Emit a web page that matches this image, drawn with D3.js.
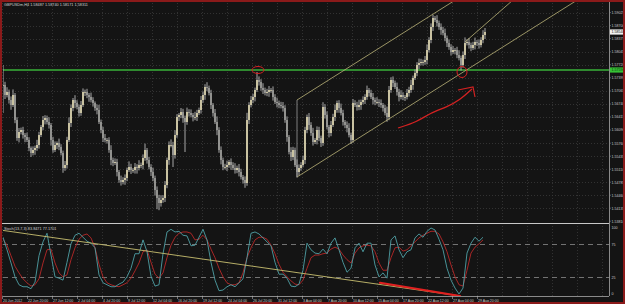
<!DOCTYPE html>
<html>
<head>
<meta charset="utf-8">
<script src="https://cdn.jsdelivr.net/npm/d3@7"></script>
<style>
  body { margin: 0; background: #141414; }
  svg { display: block; }
  text { font-family: "Liberation Sans", Arial, sans-serif; }
</style>
</head>
<body>
<div id="chart"></div>
<script>
// GBPUSDm H4 closes
const closes = [
  1.57215,1.56965,1.57040,1.56840,1.56715,1.56965,1.56340,1.55890,1.56040,1.56090,
  1.55965,1.55915,1.55840,1.55640,1.55515,1.55590,1.55640,1.55715,1.55965,1.56165,
  1.56340,1.56390,1.56290,1.56215,1.55840,1.55590,1.55715,1.55765,1.55665,1.55515,
  1.55140,1.55215,1.55840,1.56265,1.56640,1.56840,1.56765,1.56665,1.56515,1.56715,
  1.57040,1.57040,1.56965,1.56915,1.56840,1.56765,1.56640,1.56590,1.56290,1.56090,
  1.55890,1.55840,1.55840,1.55590,1.55340,1.55265,1.55290,1.55040,1.54840,1.54790,
  1.54840,1.54890,1.55090,1.55165,1.55090,1.55090,1.55165,1.55140,1.55215,1.55215,
  1.55390,1.55590,1.55340,1.55165,1.55040,1.54890,1.54590,1.54390,1.54265,1.54340,
  1.54390,1.54715,1.55340,1.55715,1.55715,1.55465,1.55965,1.56415,1.56465,1.56540,
  1.56390,1.56290,1.56540,1.56515,1.56465,1.56415,1.56415,1.56515,1.56590,1.56840,
  1.56965,1.57165,1.57140,1.57015,1.56715,1.56515,1.56290,1.56090,1.55590,1.55340,
  1.55165,1.55165,1.55215,1.55290,1.55215,1.55140,1.55090,1.55140,1.55040,1.54915,
  1.54840,1.54765,1.56340,1.56715,1.56840,1.56915,1.57090,1.57340,1.57290,1.57140,
  1.57090,1.57015,1.57040,1.57090,1.57090,1.56915,1.56790,1.56765,1.56715,1.56690,
  1.56640,1.56340,1.55915,1.55540,1.55415,1.55590,1.55215,1.55040,1.55140,1.55215,
  1.55340,1.56090,1.56415,1.56215,1.56015,1.55790,1.55840,1.56090,1.55890,1.55765,
  1.56665,1.56465,1.56165,1.56015,1.56215,1.56415,1.56590,1.56765,1.56640,1.56515,
  1.56290,1.56215,1.56140,1.55965,1.55840,1.56765,1.56715,1.56665,1.56715,1.56790,
  1.56840,1.56915,1.57090,1.57015,1.56915,1.56840,1.56790,1.56790,1.56765,1.56715,
  1.56640,1.56515,1.56415,1.57090,1.57340,1.57265,1.57165,1.57040,1.56915,1.56965,
  1.56915,1.56915,1.57015,1.57090,1.57215,1.57390,1.57515,1.57715,1.57765,1.57790,
  1.57790,1.57840,1.58090,1.58340,1.58665,1.58890,1.58840,1.58765,1.58665,1.58590,
  1.58515,1.58390,1.58265,1.58165,1.58040,1.58090,1.58090,1.57965,1.57890,1.57715,
  1.57965,1.58265,1.58290,1.58215,1.58140,1.58215,1.58290,1.58265,1.58215,1.58340,
  1.58465,1.58540
];

// wick lengths above / below the body, in pips
const upperWick = [
  50,8,12,6,9,14,5,7,10,6, 8,5,11,7,4,9,6,13,8,5, 10,7,6,12,5,8,9,4,11,7,
  6,10,8,14,9,5,12,7,6,10, 9,6,8,5,11,7,4,9,13,6, 8,10,5,7,12,6,9,8,5,11,
  7,9,6,14,8,5,10,7,12,6, 9,16,5,8,7,11,6,9,8,12, 7,10,6,9,14,8,12,7,5,10,
  8,6,11,7,9,5,13,8,6,10, 9,7,12,6,8,5,10,14,7,9, 6,8,11,5,9,7,12,6,10,8,
  5,9,18,7,10,8,6,20,9,7, 12,6,8,10,5,9,7,11,6,8, 10,7,9,5,12,8,6,14,9,7,
  11,8,6,10,7,13,5,9,8,6, 12,7,9,5,10,8,14,6,7,11, 8,5,9,12,6,10,7,8,13,6,
  9,7,11,5,8,10,6,12,7,9, 5,8,16,10,7,9,6,11,8,12, 7,5,10,8,13,6,9,7,11,8,
  6,10,14,7,9,8,5,12,6,9, 8,11,6,9,7,10,5,8,12,6, 9,14,7,10,6,8,11,5,9,7,
  12,10
];
const lowerWick = [
  70,10,6,9,12,5,8,7,11,6, 9,13,5,8,10,6,12,7,9,5, 8,11,6,9,14,7,5,10,8,6,
  12,7,9,5,10,8,13,6,9,7, 5,10,8,12,6,9,7,11,5,8, 10,6,9,7,13,8,5,11,7,9,
  6,12,8,5,10,7,9,14,6,8, 11,7,9,6,10,8,14,28,18,9, 7,10,8,12,6,30,9,7,10,8,
  12,75,7,9,6,11,8,10,5,9, 7,12,8,6,10,9,5,13,7,11, 8,6,10,7,12,5,9,8,11,6,
  9,12,7,10,6,8,11,5,9,7, 10,6,8,12,7,9,5,11,8,6, 9,7,12,6,10,8,5,14,9,7,
  6,10,8,12,7,9,5,11,8,10, 7,9,6,11,8,5,10,7,12,6, 9,8,11,6,10,7,5,9,8,12,
  6,10,7,9,5,11,8,6,10,7, 9,6,12,8,7,10,5,9,11,6, 8,10,6,9,7,12,5,8,10,6,
  9,7,11,6,8,10,5,9,7,12, 6,8,10,7,9,5,11,8,6,14, 7,10,6,9,8,5,11,7,9,6,
  8,10
];

// Stochastic (13,7,3), one value every second bar
const stochMain = [
  86,67,47,26,14,11,11,8,18,58, 79,92,59,26,24,21,48,76,89,92,
  86,80,77,70,29,17,14,11,11,15, 18,26,39,61,61,82,64,27,12,14,
  61,94,98,94,95,89,88,73,74,86, 98,82,48,21,5,6,11,14,11,17,
  23,55,92,94,91,85,79,73,48,30, 30,24,12,11,15,36,77,67,62,61,
  68,61,77,85,67,48,33,39,70,77, 64,77,77,44,26,32,24,82,88,67,
  55,64,67,85,91,86,95,100,97,83, 67,39,21,9,0,9,62,77,86,80,
  86
];
const stochSignal = [
  83,74,58,42,32,23,17,12,14,23, 47,67,68,47,32,26,29,52,70,83,
  89,91,85,70,45,26,17,14,12,11, 14,17,24,35,47,64,67,48,30,24,
  32,55,74,86,92,94,94,92,82,83, 89,82,68,55,39,26,17,14,14,17,
  32,55,70,82,86,86,83,74,61,45, 33,26,20,15,14,21,39,55,59,59,
  61,62,68,71,68,59,52,47,62,70, 73,74,73,64,47,36,36,55,70,71,
  65,67,73,79,85,89,92,95,95,91, 79,64,44,26,14,12,36,62,71,76,
  82
];

const timeLabels = [
  "20 Jun 2012","22 Jun 20:00","27 Jun 12:00","2 Jul 04:00","4 Jul 20:00",
  "9 Jul 12:00","12 Jul 04:00","16 Jul 20:00","19 Jul 12:00","24 Jul 04:00",
  "26 Jul 20:00","31 Jul 12:00","3 Aug 04:00","7 Aug 20:00","10 Aug 12:00",
  "15 Aug 04:00","17 Aug 20:00","22 Aug 12:00","27 Aug 04:00","29 Aug 20:00"
];
const priceTicks = [
  1.59025,1.58700,1.58375,1.58045,1.57720,1.57395,1.57065,1.56740,
  1.56415,1.56090,1.55760,1.55435,1.55110,1.54785,1.54460,1.54135,1.53810
];
const stochTicks = [100, 75, 25, 0];
const stochLevels = [75, 25];

// drawn objects, anchored at [bar, price] or [bar, stoch value]
const supportPrice = 1.5759;
const channelLower = [[147, 1.54915], [229.5, 1.5752]];
const channelUpperStart = [147, 1.5684];
const steepLine = [[231, 1.5829], [255, 1.5934]];
const markCircles = [[127.5, 1.5759, 6, 3.5], [229.5, 1.5754, 5, 5.5]];
const arrowPath = [[197.5, 1.5614], [207, 1.5629], [213.5, 1.56515], [222, 1.56665], [228.5, 1.5684], [234.5, 1.57115]];
const arrowHead = [[227.5, 1.5709], [235, 1.57165], [236, 1.56915]];
const stochTrend = [[-1.5, 97], [228.5, -3]];
const stochMark = [[188.5, 17], [228.5, -3]];

const header = "GBPUSDm,H4  1.58487 1.58740 1.58171 1.58311";
const stochTitle = "Stoch(13,7,3) 83.8471 77.1701";

const W = 625, H = 304;
const main = { left: 3, right: 609, top: 3, bottom: 222 };
const sub = { top: 226, bottom: 296 };

const svg = d3.select("#chart").append("svg")
  .attr("width", W)
  .attr("height", H);

svg.append("rect").attr("width", W).attr("height", H).attr("fill", "#141414");

const x = d3.scaleLinear().domain([0, closes.length - 1]).range([3, 485]);
const y = d3.scaleLinear().domain([1.5379, 1.5934]).range([222, 0]);
const xs = d3.scaleLinear().domain([0, stochMain.length - 1]).range([3, 483]);
const ys = d3.scaleLinear().domain([0, 100]).range([294, 228]);
const xt = d3.scalePoint().domain(timeLabels).range([2, 477]);

// clip areas
const defs = svg.append("defs");
defs.append("clipPath").attr("id", "clipMain").append("rect")
  .attr("x", main.left).attr("y", 2).attr("width", main.right - main.left).attr("height", main.bottom - 2);
defs.append("clipPath").attr("id", "clipSub").append("rect")
  .attr("x", main.left).attr("y", sub.top).attr("width", main.right - main.left).attr("height", sub.bottom - sub.top + 1);

// grid
const gridX = timeLabels.map(d => xt(d));
for (let p = xt(timeLabels[timeLabels.length - 1]) + xt.step(); p < main.right; p += xt.step()) gridX.push(p);

const grid = svg.append("g")
  .attr("stroke", "#3a3a3a")
  .attr("stroke-width", 0.8)
  .attr("stroke-dasharray", "1,2");

grid.selectAll(".vg").data(gridX).join("line")
  .attr("x1", d => d + 0.5).attr("x2", d => d + 0.5)
  .attr("y1", main.top).attr("y2", main.bottom);
grid.selectAll(".vs").data(gridX).join("line")
  .attr("x1", d => d + 0.5).attr("x2", d => d + 0.5)
  .attr("y1", sub.top).attr("y2", sub.bottom);
grid.selectAll(".hg").data(priceTicks.slice(0, -1)).join("line")
  .attr("x1", main.left).attr("x2", main.right)
  .attr("y1", d => Math.round(y(d)) + 0.5).attr("y2", d => Math.round(y(d)) + 0.5);

// support line
svg.append("line")
  .attr("x1", main.left).attr("x2", main.right)
  .attr("y1", y(supportPrice)).attr("y2", y(supportPrice))
  .attr("stroke", "#2f8a2f").attr("stroke-width", 2);

// bars
const bars = closes.map((c, i) => {
  const o = i ? closes[i - 1] : c;
  return {
    i, o, c,
    h: Math.max(o, c) + upperWick[i] / 10000,
    l: Math.min(o, c) - lowerWick[i] / 10000
  };
});

const barG = svg.append("g").attr("clip-path", "url(#clipMain)");
barG.selectAll(".wick").data(bars).join("line")
  .attr("x1", d => x(d.i)).attr("x2", d => x(d.i))
  .attr("y1", d => y(d.h)).attr("y2", d => y(d.l))
  .attr("stroke", "#b8b8b8").attr("stroke-width", 0.9);
barG.selectAll(".body").data(bars).join("rect")
  .attr("x", d => x(d.i) - 0.75)
  .attr("width", 1.5)
  .attr("y", d => y(Math.max(d.o, d.c)))
  .attr("height", d => Math.max(0.8, Math.abs(y(d.o) - y(d.c))))
  .attr("fill", d => d.c >= d.o ? "#ede3b8" : "#a4a4a0");

// channel and trend lines
const objG = svg.append("g").attr("clip-path", "url(#clipMain)");
const slope = (channelLower[1][1] - channelLower[0][1]) / (channelLower[1][0] - channelLower[0][0]);
const farBar = 320;
const rays = [
  [channelLower[0], [farBar, channelLower[0][1] + slope * (farBar - channelLower[0][0])]],
  [channelUpperStart, [farBar, channelUpperStart[1] + slope * (farBar - channelUpperStart[0])]],
  [steepLine[0], [farBar, steepLine[0][1] + (steepLine[1][1] - steepLine[0][1]) / (steepLine[1][0] - steepLine[0][0]) * (farBar - steepLine[0][0])]]
];
objG.selectAll(".ray").data(rays).join("line")
  .attr("x1", d => x(d[0][0])).attr("y1", d => y(d[0][1]))
  .attr("x2", d => x(d[1][0])).attr("y2", d => y(d[1][1]))
  .attr("stroke", "#bdb57a").attr("stroke-width", 0.8);
// left edge of the channel
objG.append("line")
  .attr("x1", x(channelLower[0][0])).attr("x2", x(channelLower[0][0]))
  .attr("y1", y(channelUpperStart[1])).attr("y2", y(channelLower[0][1]))
  .attr("stroke", "#9a9a9a").attr("stroke-width", 0.8);

// red hand marks
objG.selectAll(".mark").data(markCircles).join("ellipse")
  .attr("cx", d => x(d[0])).attr("cy", d => y(d[1]))
  .attr("rx", d => d[2]).attr("ry", d => d[3])
  .attr("fill", "none").attr("stroke", "#d42222").attr("stroke-width", 1);

const pLine = d3.line().x(d => x(d[0])).y(d => y(d[1]));
objG.append("path").attr("d", pLine.curve(d3.curveBasis)(arrowPath))
  .attr("fill", "none").attr("stroke", "#d42222").attr("stroke-width", 1.3);
objG.append("path").attr("d", d3.line().x(d => x(d[0])).y(d => y(d[1]))(arrowHead))
  .attr("fill", "none").attr("stroke", "#d42222").attr("stroke-width", 1.2);

// separator between windows
svg.append("line")
  .attr("x1", 0).attr("x2", main.right)
  .attr("y1", 223.5).attr("y2", 223.5)
  .attr("stroke", "#c8c8c8").attr("stroke-width", 1.2);

// stochastic window
const subG = svg.append("g").attr("clip-path", "url(#clipSub)");
subG.selectAll(".lvl").data(stochLevels).join("line")
  .attr("x1", main.left).attr("x2", main.right)
  .attr("y1", d => ys(d)).attr("y2", d => ys(d))
  .attr("stroke", "#8c8c8c").attr("stroke-width", 0.8)
  .attr("stroke-dasharray", "5,4");

const sLine = d3.line().x((d, i) => xs(i)).y(d => ys(d));
subG.append("path").attr("d", sLine(stochSignal))
  .attr("fill", "none").attr("stroke", "#b82828").attr("stroke-width", 0.9);
subG.append("path").attr("d", sLine(stochMain))
  .attr("fill", "none").attr("stroke", "#4fa0a6").attr("stroke-width", 0.9);

const tLine = d3.line().x(d => x(d[0])).y(d => ys(d[1]));
subG.append("path").attr("d", tLine(stochTrend))
  .attr("stroke", "#c8c070").attr("stroke-width", 0.9).attr("fill", "none");
subG.append("path").attr("d", tLine(stochMark))
  .attr("stroke", "#e02020").attr("stroke-width", 2.2).attr("fill", "none")
  .attr("stroke-linecap", "round");

// price axis
svg.append("line")
  .attr("x1", main.right + 0.5).attr("x2", main.right + 0.5)
  .attr("y1", 0).attr("y2", sub.bottom)
  .attr("stroke", "#8a8a8a").attr("stroke-width", 1);

const pAxis = svg.append("g").attr("font-size", 3.6).attr("fill", "#c8c8c8");
pAxis.selectAll("text").data(priceTicks).join("text")
  .attr("x", main.right + 2.5)
  .attr("y", d => y(d) + 1.3)
  .text(d => d.toFixed(5));
pAxis.selectAll("line").data(priceTicks).join("line")
  .attr("x1", main.right).attr("x2", main.right + 2)
  .attr("y1", d => y(d)).attr("y2", d => y(d))
  .attr("stroke", "#8a8a8a").attr("stroke-width", 0.6);

// support price label
svg.append("rect")
  .attr("x", main.right + 1).attr("y", y(supportPrice) - 2.6)
  .attr("width", 14).attr("height", 5.2).attr("fill", "#35c235");
svg.append("text")
  .attr("x", main.right + 2.5).attr("y", y(supportPrice) + 1.3)
  .attr("font-size", 3.6).attr("fill", "#103010")
  .text(supportPrice.toFixed(5));

// last price label
const last = closes[closes.length - 1];
svg.append("rect")
  .attr("x", main.right + 1).attr("y", y(last) - 2.6)
  .attr("width", 14).attr("height", 5.2).attr("fill", "#f2f2f2");
svg.append("text")
  .attr("x", main.right + 2.5).attr("y", y(last) + 1.3)
  .attr("font-size", 3.6).attr("fill", "#111")
  .text(last.toFixed(5));

// stoch axis labels
svg.append("g").attr("font-size", 3.6).attr("fill", "#c8c8c8")
  .selectAll("text").data(stochTicks).join("text")
  .attr("x", main.right + 2.5)
  .attr("y", d => Math.min(ys(d) + 1.3, 295.5))
  .text(d => d);

// time axis
svg.append("line")
  .attr("x1", main.left).attr("x2", main.right)
  .attr("y1", sub.bottom + 0.5).attr("y2", sub.bottom + 0.5)
  .attr("stroke", "#8a8a8a").attr("stroke-width", 1);
const tAxis = svg.append("g");
tAxis.selectAll("line").data(timeLabels).join("line")
  .attr("x1", d => xt(d) + 0.5).attr("x2", d => xt(d) + 0.5)
  .attr("y1", sub.bottom).attr("y2", sub.bottom + 3)
  .attr("stroke", "#b0b0b0").attr("stroke-width", 0.6);
tAxis.selectAll("text").data(timeLabels).join("text")
  .attr("x", d => xt(d) + 1)
  .attr("y", 301.5)
  .attr("font-size", 3.5)
  .attr("fill", "#c8c8c8")
  .text(d => d);

// titles
svg.append("text").attr("x", 4).attr("y", 5.5)
  .attr("font-size", 3.8).attr("fill", "#d0d0d0").text(header);
svg.append("text").attr("x", 4).attr("y", 229.5)
  .attr("font-size", 3.8).attr("fill", "#d0d0d0").text(stochTitle);

// window frame
svg.append("rect")
  .attr("x", 1).attr("y", 1).attr("width", W - 2).attr("height", H - 2)
  .attr("fill", "none").attr("stroke", "#8b1a1a").attr("stroke-width", 2);
</script>
</body>
</html>
